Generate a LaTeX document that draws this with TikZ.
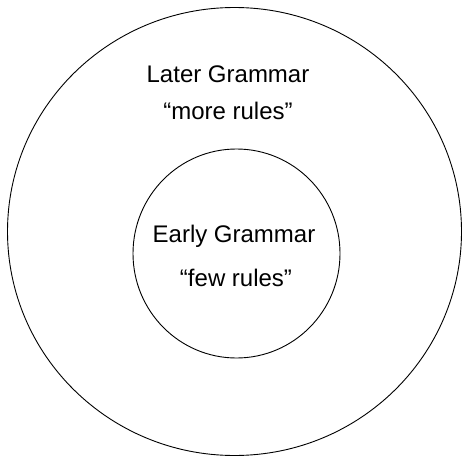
\documentclass[tikz,border=0pt]{standalone}
\usepackage{fontspec}
\setmainfont{Liberation Sans}
\usetikzlibrary{positioning,shapes,calc}

\begin{document}
\begin{tikzpicture}[x=1pt, y=-1pt, every node/.style={font=\fontsize{24}{28}\selectfont}]
                \useasboundingbox (0,0) rectangle (462,457);
                \tikzset{ring/.style={draw, line width=0.9pt, inner sep=0pt}}

                % Outer ring
                \node[ring, ellipse, minimum width=454pt, minimum height=448pt] (later) at (234.5, 231.5) {};
                \node[anchor=base] (latername) at (228, 82.7) {Later Grammar};
                \node[anchor=base] (laterrules) at (228, 119.3) {“more rules”};

                % Inner ring
                \node[ring, ellipse, minimum width=207pt, minimum height=209pt] (early) at (236.5, 253.5) {};
                \node[anchor=base] (earlyname) at (234, 242.7) {Early Grammar};
                \node[anchor=base] (earlyrules) at (236, 286) {“few rules”};
            \end{tikzpicture}
\end{document}
